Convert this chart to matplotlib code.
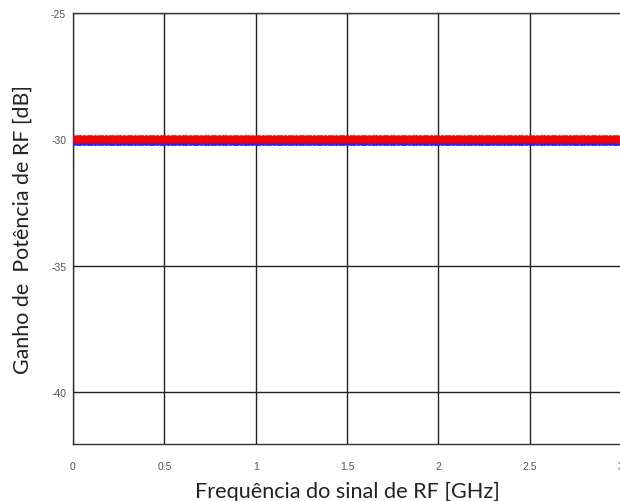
import numpy as np
import matplotlib
matplotlib.use("Agg")
import matplotlib.pyplot as plt

# Data
freq_ghz = np.round(np.arange(0, 3.0001, 0.02), 4)   # sampled RF frequencies [GHz]
gain_red = [-30.0] * len(freq_ghz)                  # red series [dB]
gain_blue = [-30.12] * len(freq_ghz)                # blue series [dB]
xticks = [0, 0.5, 1, 1.5, 2, 2.5, 3]
xticklabels = ["0", "0.5", "1", "1.5", "2", "2.5", "3"]
yticks = [-40, -35, -30, -25]
yticklabels = ["-40", "-35", "-30", "-25"]

fig = plt.figure(figsize=(6.2, 5.02), dpi=100)
ax = fig.add_axes([73/620, 57/502, 548/620, 431/502])

ax.plot(freq_ghz, gain_blue, color="#1a1aff", lw=1.5, marker="o", ms=4,
        mfc="#3030ff", mec="#2020ff", zorder=3)
ax.plot(freq_ghz, gain_red, color="red", lw=1.5, marker="o", ms=5.5,
        mfc="red", mec="#cc1010", mew=0.6, zorder=4)

ax.set_xlim(0, 3)
ax.set_ylim(-42.05, -25)
ax.set_xticks(xticks)
ax.set_xticklabels(xticklabels)
ax.set_yticks(yticks)
ax.set_yticklabels(yticklabels)
ax.grid(True, color="#222222", lw=1.0)
ax.set_axisbelow(True)
for s in ax.spines.values():
    s.set_color("#333333")
    s.set_linewidth(1.0)
ax.tick_params(length=0, labelsize=7.5, labelcolor="#555555", pad=12)
ax.tick_params(axis="y", pad=5)
for lab in ax.get_xticklabels() + ax.get_yticklabels():
    lab.set_family(["Liberation Sans", "DejaVu Sans"])

ax.set_xlabel("Frequência do sinal de RF [GHz]", family=["Lato", "DejaVu Sans"],
              fontsize=15.6, color="#222222", labelpad=7)
ax.set_ylabel("Ganho de  Potência de RF [dB]", family=["Lato", "DejaVu Sans"],
              fontsize=15.4, color="#222222", labelpad=13)

fig.savefig("out.png", dpi=100)
